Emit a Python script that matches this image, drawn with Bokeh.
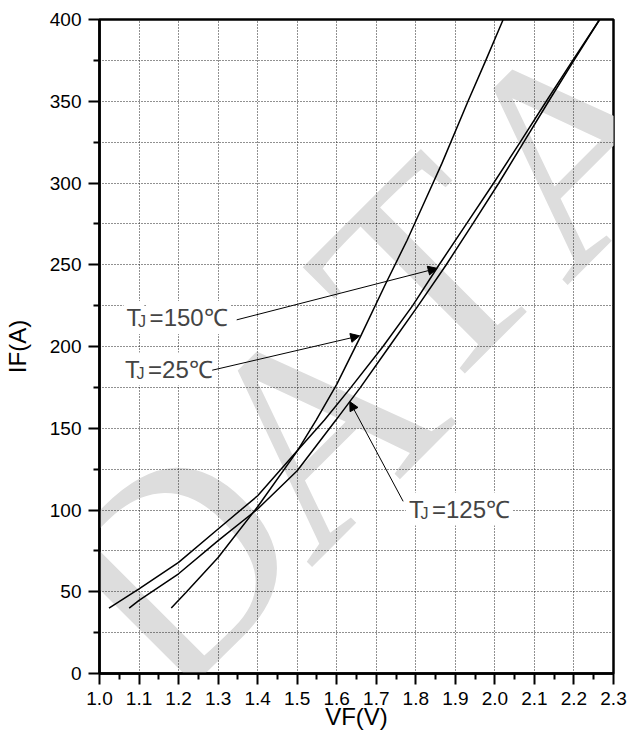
import math
from bokeh.plotting import figure
from bokeh.models import FixedTicker, Label, Arrow, NormalHead, PrintfTickFormatter, Range1d
from bokeh.embed import file_html
from bokeh.resources import INLINE

# ---------------- data ----------------
vf_25 = [1.1815, 1.218, 1.300, 1.400, 1.500, 1.548, 1.600, 1.660, 1.725, 1.778, 1.823, 1.866, 1.932, 1.977, 2.021]
if_25 = [40, 49.4, 71, 102, 136, 155, 176.8, 206, 239, 265, 289, 312, 350, 375, 400]

vf_125 = [1.075, 1.100, 1.200, 1.300, 1.400, 1.500, 1.598, 1.660, 1.733, 1.806, 1.877, 1.944, 2.010, 2.073, 2.136, 2.200, 2.265]
if_125 = [40, 44.7, 61, 81.3, 100.6, 124, 155, 175, 200, 225, 250, 275, 300, 325, 350, 375, 400]

vf_150 = [1.024, 1.100, 1.200, 1.300, 1.400, 1.499, 1.569, 1.636, 1.717, 1.792, 1.859, 1.928, 1.997, 2.064, 2.130, 2.197, 2.265]
if_150 = [40, 51.8, 68, 88.4, 108.7, 136, 155, 175, 200, 225, 250, 275, 300, 325, 350, 375, 400]

x_ticks = [1.0, 1.1, 1.2, 1.3, 1.4, 1.5, 1.6, 1.7, 1.8, 1.9, 2.0, 2.1, 2.2, 2.3]
x_minor = [1.05, 1.15, 1.25, 1.35, 1.45, 1.55, 1.65, 1.75, 1.85, 1.95, 2.05, 2.15, 2.25]
y_ticks = [0, 50, 100, 150, 200, 250, 300, 350, 400]
y_minor = [25, 75, 125, 175, 225, 275, 325, 375]

x_title = "VF(V)"
y_title = "IF(A)"

# annotation texts, label anchors (V, I) and arrows ((start), (end))
ann_text = ["=150\u2103", "=25\u2103", "=125\u2103"]
ann_label = [(1.061, 207.7), (1.057, 176.1), (1.775, 90.5)]
ann_arrow = [((1.347, 216.3), (1.854, 247.8)),
             ((1.285, 185.5), (1.658, 206.5)),
             ((1.768, 105.3), (1.633, 166.3))]

# watermark letters and the positions of their centres
wm_letters = ["D", "A", "T", "A"]
wm_pos = [(1.1944, 66.7), (1.5455, 151.4), (1.8283, 244.6), (2.1919, 323.9)]

FONT = "Liberation Sans"

p = figure(width=628, height=742, output_backend="svg", toolbar_location=None,
           x_range=Range1d(1.0, 2.3), y_range=Range1d(0, 400),
           min_border_left=98, min_border_right=15, min_border_top=19, min_border_bottom=69)
p.background_fill_color = "white"
p.border_fill_color = "white"
p.outline_line_color = "black"
p.outline_line_width = 2.5

# watermark (behind everything)
for t, (wx, wy) in zip(wm_letters, wm_pos):
    p.add_layout(Label(x=wx, y=wy, text=t, angle=math.pi / 4, text_align="center",
                       text_baseline="middle", text_font="Liberation Serif",
                       text_font_size="290px", text_color="#dddddd", level="image"))

# axes
p.xaxis.ticker = FixedTicker(ticks=x_ticks, minor_ticks=x_minor)
p.yaxis.ticker = FixedTicker(ticks=y_ticks, minor_ticks=y_minor)
p.xaxis.formatter = PrintfTickFormatter(format="%.1f")
p.xaxis.axis_label = x_title
p.yaxis.axis_label = y_title
for ax in (p.xaxis[0], p.yaxis[0]):
    ax.axis_line_width = 2.5
    ax.axis_line_color = "black"
    ax.major_tick_in = 0
    ax.major_tick_out = 11
    ax.minor_tick_in = 0
    ax.minor_tick_out = 6
    ax.major_tick_line_width = 2
    ax.minor_tick_line_width = 2
    ax.major_tick_line_color = "black"
    ax.minor_tick_line_color = "black"
    ax.major_label_text_font = FONT
    ax.major_label_text_font_size = "19px"
    ax.major_label_text_color = "black"
    ax.axis_label_text_font = FONT
    ax.axis_label_text_font_size = "24px"
    ax.axis_label_text_font_style = "normal"
    ax.axis_label_text_color = "black"
p.xaxis.major_label_standoff = 7
p.yaxis.major_label_standoff = 7
p.xaxis.axis_label_standoff = -5
p.yaxis.axis_label_standoff = 16

# grids (dotted)
p.xgrid.ticker = FixedTicker(ticks=x_ticks)
p.ygrid.ticker = FixedTicker(ticks=y_ticks, minor_ticks=y_minor)
p.xgrid.grid_line_color = "#222222"
p.xgrid.grid_line_dash = "1 2"
p.xgrid.grid_line_width = 1
p.ygrid.grid_line_color = "#222222"
p.ygrid.grid_line_dash = "1 2"
p.ygrid.grid_line_width = 1
p.ygrid.minor_grid_line_color = "#222222"
p.ygrid.minor_grid_line_dash = "1 2"
p.ygrid.minor_grid_line_width = 1

# curves
for vx, iy in ((vf_25, if_25), (vf_125, if_125), (vf_150, if_150)):
    p.line(vx, iy, line_color="black", line_width=1.5)

# annotation labels: "T" + small "J" + "=xx℃"
for suffix, (lx, ly) in zip(ann_text, ann_label):
    p.add_layout(Label(x=lx, y=ly, text="T", text_font=FONT, text_font_size="24px",
                       text_baseline="bottom", background_fill_color="white", padding=3))
    p.add_layout(Label(x=lx, y=ly, x_offset=23, text=suffix, text_font=FONT, text_font_size="24px",
                       text_baseline="bottom", background_fill_color="white", padding=3))
    p.add_layout(Label(x=lx, y=ly, x_offset=14.5, y_offset=4, text="J", text_font=FONT,
                       text_font_size="16px", text_baseline="bottom", background_fill_color="white"))

for (s, e) in ann_arrow:
    p.add_layout(Arrow(end=NormalHead(size=9, fill_color="black", line_color="black"),
                       x_start=s[0], y_start=s[1], x_end=e[0], y_end=e[1],
                       line_color="black", line_width=1))

open("out.html", "w").write(file_html(p, INLINE))
